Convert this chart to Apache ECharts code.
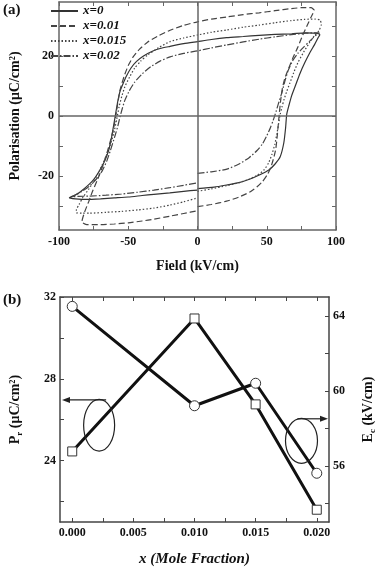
<!DOCTYPE html>
<html><head><meta charset="utf-8">
<script src="https://cdn.jsdelivr.net/npm/echarts@6/dist/echarts.min.js"></script>
<style>html,body{margin:0;padding:0;background:#fff}#c{width:385px;height:568px}</style>
</head><body><div id="c"></div>
<script>
// ---------- (a) P-E hysteresis loops ----------
const loopNames = ['x=0', 'x=0.01', 'x=0.015', 'x=0.02'];
const loopX0 = [[0,-24.2],[12,-23.7],[21,-23],[30,-22.2],[38,-21],[45,-19.6],[51.5,-18],[56,-16],[59.7,-13.6],[62.3,-9],[63.6,-4],[64.4,0.5],[66,3.5],[68,6.8],[71,10.5],[74,14.2],[77.5,17.8],[81,21],[84.5,23.8],[87,26],[88.3,27.1],[85,27.6],[78,27.7],[68,27.4],[56,27.2],[44.5,26.9],[33,26.5],[21,26.1],[10,25.5],[0,24.8],[-10,24.1],[-19.8,23.2],[-27,22.5],[-33,21.5],[-39,20],[-44,18.2],[-48,16],[-51.3,13.3],[-54,10.5],[-55.9,8.3],[-57.3,5.5],[-58.3,3],[-59.4,0],[-60.5,-3],[-62,-7],[-64.1,-11.4],[-67,-15],[-71,-18.4],[-75,-21.2],[-78.3,-22.8],[-82,-24.3],[-87,-26.1],[-92.5,-27.3],[-88,-27.6],[-80,-27.8],[-70,-27.6],[-60,-27.3],[-50,-27],[-40,-26.5],[-31.5,-26.1],[-20,-25.6],[-10,-25.1],[0,-24.7]];
const loopX001 = [[0,-30.2],[10,-29.5],[21,-28.4],[30,-27],[37.5,-25.4],[43,-23.6],[47,-21.8],[50.5,-19.5],[53,-17],[55,-14],[56.5,-11],[57.5,-7],[58.2,-3.5],[59,0.5],[60,5],[61.2,9],[63,12.5],[65.5,15.5],[69,19.5],[72.5,23],[76,27],[79.5,30.5],[82,33],[84.2,35.3],[82,36.1],[75,36.1],[67.8,35.8],[56,35.1],[44.5,34.4],[33,33.8],[21,33],[10,32.3],[0,31.4],[-10,30.2],[-19.8,28.6],[-28,26.8],[-36.1,24.6],[-42,22.2],[-46.6,19.6],[-50,16.8],[-52.4,14],[-54.5,11],[-56,8.5],[-57.3,5],[-58.3,2],[-59.5,-1.5],[-61,-5],[-63,-8.5],[-65.5,-12.5],[-68.7,-17],[-72,-21],[-75.7,-25],[-78.5,-28.5],[-81.5,-32],[-83.5,-35.3],[-80,-36.2],[-70,-36.2],[-60,-36],[-50,-35.6],[-40,-35],[-31.5,-34.4],[-20,-33.4],[-10,-32.5],[0,-31.6]];
const loopX0015 = [[0,-25.1],[10,-24.3],[21.2,-23.2],[30,-22.2],[37.5,-21],[43,-19.8],[48,-18],[51.5,-15.5],[53.8,-12.7],[55.8,-9.5],[57.3,-6],[58.6,-2.5],[59.7,0.5],[61,3],[62.5,5.5],[64.5,8.3],[66.7,11],[69.5,14.5],[72.5,17.8],[76.5,21.2],[80.7,24.3],[84.5,26.8],[87.7,28.5],[89.4,30.5],[88.5,32],[85,32.3],[77,32.2],[67.8,31.8],[56,31.1],[44.5,30.3],[33,29.6],[21.2,28.7],[10,27.9],[0,27],[-10,26],[-19.8,24.8],[-28,22.8],[-36.1,20.3],[-41,18.3],[-45.5,15.9],[-49,13],[-52.4,9.8],[-54.7,6.5],[-56.6,3.1],[-58.3,-1],[-60.6,-6],[-63.2,-10],[-66.4,-13.8],[-70.5,-18],[-74.6,-21.6],[-78.7,-24.5],[-82.7,-27.1],[-85.5,-29.5],[-87.4,-31.2],[-87.5,-32.2],[-83,-32.4],[-78,-32.4],[-66,-32.1],[-54.8,-31.8],[-43,-31.3],[-31.5,-30.7],[-20,-29.7],[-10,-28.6],[0,-27.3]];
const loopX002 = [[0,-19.1],[10,-18.6],[21.2,-17.7],[30,-16],[37.5,-13.8],[43,-11.5],[46.9,-9.3],[50,-6.6],[52.7,-3.8],[54.6,-1.5],[56.2,0.7],[58.2,3.8],[60.8,7.6],[63,11.5],[65.5,15.2],[68.7,18.4],[72.5,20.9],[76.5,22.9],[80.7,24.8],[84,26.3],[86.5,27.3],[88,27.7],[84,27.7],[78,27.6],[67.8,27.1],[56,26.4],[44.5,25.6],[33,24.7],[21.2,23.7],[10,22.7],[0,21.7],[-10,20.9],[-19.8,19.7],[-27,18.3],[-33.8,16.4],[-40,14],[-45.5,11.2],[-49.5,8.2],[-52.4,5.3],[-54.3,2.5],[-55.9,-0.2],[-57.6,-3.5],[-59.5,-6.5],[-62.9,-11.5],[-65.5,-15],[-68.7,-18.2],[-73,-21],[-78.1,-23.4],[-83,-25],[-87.4,-26.1],[-90.5,-26.9],[-86,-26.8],[-78.1,-26.7],[-66,-26.4],[-54.8,-26],[-43,-25.4],[-31.5,-24.7],[-20,-23.9],[-10,-23.1],[0,-22.3]];
const fieldTicks = [-100,-75,-50,-25,0,25,50,75,100];
const fieldLabels = [-100,-50,0,50,100];
const polTicks = [-30,-20,-10,0,10,20,30];
const polLabels = [-20,0,20];

// ---------- (b) Pr and Ec vs composition ----------
const moleX = [0, 0.01, 0.015, 0.02];
const prVals = [24.45, 30.95, 26.75, 21.6];
const ecVals = [64.5, 59.2, 60.4, 55.6];
const moleTicks = [0,0.0025,0.005,0.0075,0.01,0.0125,0.015,0.0175,0.02];
const moleLabels = [0,0.005,0.01,0.015,0.02];
const prTicks = [22,24,26,28,30,32];
const prLabels = [24,28,32];
const ecTicks = [54,56,58,60,62,64];
const ecLabels = [56,60,64];

const FONT = "'Liberation Serif','Times New Roman',serif";
const lblStyle = {fontFamily: FONT, fontWeight: 'bold', fontSize: 12, color: '#111'};
const nameStyle = {fontFamily: FONT, fontWeight: 'bold', fontSize: 14, color: '#111'};

function mkAxis(o) {
  const lc = o.lineColor || '#666';
  return {
    type: 'value', gridIndex: o.grid, position: o.pos, min: o.min, max: o.max,
    splitLine: {show: false},
    axisLine: {show: true, onZero: false, lineStyle: {color: lc, width: 1.5}},
    axisTick: {show: true, inside: true, length: 4, customValues: o.ticks, lineStyle: {color: lc, width: 1}},
    axisLabel: o.labels ? Object.assign({show: true, customValues: o.labels, margin: o.margin || 5, formatter: o.fmt}, lblStyle) : {show: false},
    name: o.name || '', nameLocation: 'middle', nameGap: o.nameGap || 30, nameRotate: o.nameRotate,
    nameTextStyle: o.nameStyle || nameStyle
  };
}

const chart = echarts.init(document.getElementById('c'), null, {renderer: 'canvas'});
const gridA = {left: 50, top: 2, width: 286, height: 228};
const gridB = {left: 50, top: 297, width: 286, height: 230};

const loopData = [loopX0, loopX001, loopX0015, loopX002];
const loopDash = ['solid', [6, 3], [1.5, 2], [7, 2, 1.5, 2]];
const loopColor = ['#333', '#444', '#444', '#444'];

const loopSeries = loopData.map((d, i) => ({
  name: loopNames[i], type: 'line', xAxisIndex: 0, yAxisIndex: 0,
  data: d, symbol: 'none', smooth: 0.2, z: 3,
  lineStyle: {color: loopColor[i], width: 1.2, type: loopDash[i]},
  itemStyle: {color: loopColor[i]}
}));
loopSeries[0].markLine = {
  silent: true, symbol: ['none', 'none'], label: {show: false}, animation: false,
  lineStyle: {color: '#666', type: 'solid', width: 1.5},
  data: [{xAxis: 0}, {yAxis: 0}]
};

const subRich = {
  m: {fontFamily: FONT, fontWeight: 'bold', fontSize: 14, color: '#111', lineHeight: 18},
  s: {fontFamily: FONT, fontWeight: 'bold', fontSize: 9, color: '#111', verticalAlign: 'bottom', lineHeight: 18}
};

const option = {
  animation: false,
  backgroundColor: '#fff',
  grid: [gridA, gridB],
  legend: {
    left: 50, top: 4, orient: 'vertical', padding: 0, itemGap: 1,
    itemWidth: 27, itemHeight: 10, data: loopNames,
    itemStyle: {opacity: 0, borderWidth: 0},
    textStyle: {fontFamily: FONT, fontStyle: 'italic', fontWeight: 'bold', fontSize: 13, lineHeight: 14, color: '#111'}
  },
  xAxis: [
    mkAxis({grid: 0, pos: 'bottom', min: -100, max: 100, ticks: fieldTicks, labels: fieldLabels, margin: 6,
            name: 'Field (kV/cm)', nameGap: 29}),
    mkAxis({grid: 0, pos: 'top', min: -100, max: 100, ticks: fieldTicks}),
    mkAxis({grid: 1, pos: 'bottom', min: -0.001, max: 0.021, ticks: moleTicks, labels: moleLabels, margin: 5,
            fmt: v => Number(v).toFixed(3), lineColor: '#444',
            name: 'x (Mole Fraction)', nameGap: 30,
            nameStyle: Object.assign({}, nameStyle, {fontStyle: 'italic', fontSize: 15})}),
    mkAxis({grid: 1, pos: 'top', min: -0.001, max: 0.021, ticks: moleTicks, lineColor: '#444'})
  ],
  yAxis: [
    mkAxis({grid: 0, pos: 'left', min: -38, max: 38, ticks: polTicks, labels: polLabels, margin: 5,
            name: 'Polarisation (μC/cm²)', nameGap: 37, nameRotate: 90}),
    mkAxis({grid: 0, pos: 'right', min: -38, max: 38, ticks: polTicks}),
    mkAxis({grid: 1, pos: 'left', min: 21, max: 32, ticks: prTicks, labels: prLabels, margin: 4, lineColor: '#444',
            name: '{m|P}{s|r}{m| (μC/cm²)}', nameGap: 36, nameRotate: 90,
            nameStyle: {rich: subRich}}),
    mkAxis({grid: 1, pos: 'right', min: 53, max: 65, ticks: ecTicks, labels: ecLabels, margin: 4, lineColor: '#444',
            name: '{m|E}{s|c}{m| (kV/cm)}', nameGap: 30, nameRotate: 90,
            nameStyle: {rich: subRich}})
  ],
  series: loopSeries.concat([
    {
      name: 'Pr', type: 'line', xAxisIndex: 2, yAxisIndex: 2,
      data: moleX.map((x, i) => [x, prVals[i]]),
      symbol: 'rect', symbolSize: 9, z: 4,
      lineStyle: {color: '#111', width: 3},
      itemStyle: {color: '#fff', borderColor: '#333', borderWidth: 1}
    },
    {
      name: 'Ec', type: 'line', xAxisIndex: 2, yAxisIndex: 3,
      data: moleX.map((x, i) => [x, ecVals[i]]),
      symbol: 'circle', symbolSize: 10, z: 4,
      lineStyle: {color: '#111', width: 3},
      itemStyle: {color: '#fff', borderColor: '#333', borderWidth: 1}
    }
  ])
};
chart.setOption(option);

// ---------- annotations (panel letters, ellipses with arrows) ----------
const pA = chart.convertToPixel({xAxisIndex: 2, yAxisIndex: 2}, [0.0022, 25.73]);
const pB = chart.convertToPixel({xAxisIndex: 2, yAxisIndex: 2}, [0.01875, 24.97]);
const leftX = chart.convertToPixel({xAxisIndex: 2, yAxisIndex: 2}, [-0.001, 24])[0];
const rightX = chart.convertToPixel({xAxisIndex: 2, yAxisIndex: 2}, [0.021, 24])[0];
const ra = [15.5, 25.8], rb = [16, 22.5];
const ayA = pA[1] - ra[1] + 0.5, ayB = pB[1] - rb[1] + 0.5;
const annStroke = {stroke: '#222', lineWidth: 1.2, fill: 'none'};
chart.setOption({
  graphic: [
    {type: 'text', left: 3, top: 3, style: {text: '(a)', font: "bold 15px " + FONT, fill: '#111'}},
    {type: 'text', left: 3, top: 293, style: {text: '(b)', font: "bold 15px " + FONT, fill: '#111'}},
    {type: 'ellipse', shape: {cx: pA[0], cy: pA[1], rx: ra[0], ry: ra[1]}, style: annStroke, z: 10},
    {type: 'line', shape: {x1: pA[0] + 7, y1: ayA, x2: leftX + 8, y2: ayA}, style: {stroke: '#222', lineWidth: 1.2}, z: 10},
    {type: 'polygon', shape: {points: [[leftX + 2, ayA], [leftX + 10, ayA - 3], [leftX + 10, ayA + 3]]}, style: {fill: '#222'}, z: 10},
    {type: 'ellipse', shape: {cx: pB[0], cy: pB[1], rx: rb[0], ry: rb[1]}, style: annStroke, z: 10},
    {type: 'line', shape: {x1: pB[0] - 4, y1: ayB, x2: rightX - 8, y2: ayB}, style: {stroke: '#222', lineWidth: 1.2}, z: 10},
    {type: 'polygon', shape: {points: [[rightX - 1, ayB], [rightX - 9, ayB - 3], [rightX - 9, ayB + 3]]}, style: {fill: '#222'}, z: 10}
  ]
});
</script></body></html>
